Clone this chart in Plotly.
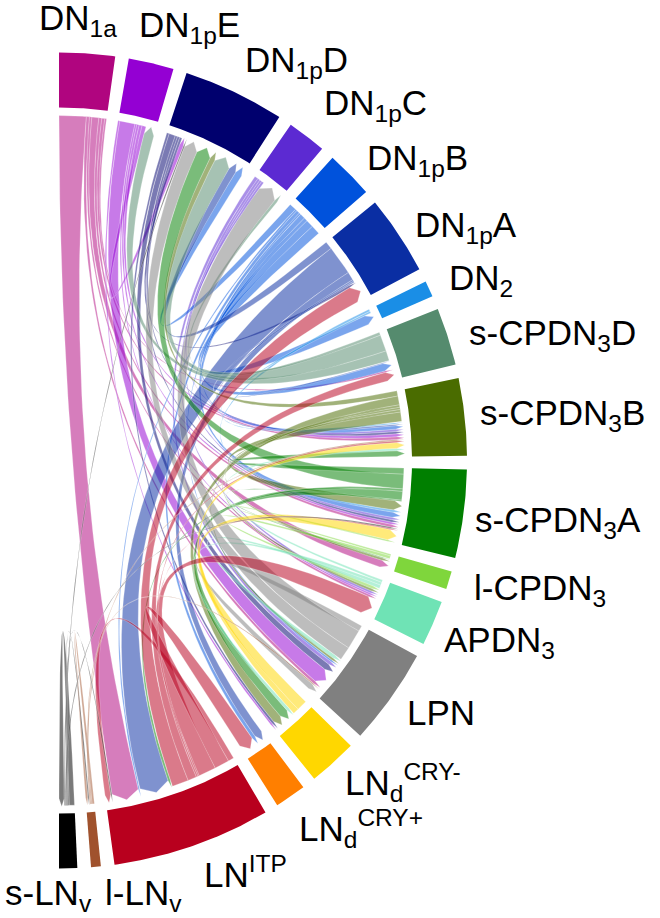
import numpy as np
import plotly.graph_objects as go

# ---------------- data ----------------
NODES = ["DN1a", "DN1pE", "DN1pD", "DN1pC", "DN1pB", "DN1pA", "DN2",
         "s-CPDN3D", "s-CPDN3B", "s-CPDN3A", "l-CPDN3", "APDN3", "LPN",
         "LNdCRY-", "LNdCRY+", "LNITP", "l-LNv", "s-LNv"]

NODE_LABELS = ["DN<sub>1a</sub>", "DN<sub>1p</sub>E", "DN<sub>1p</sub>D", "DN<sub>1p</sub>C",
               "DN<sub>1p</sub>B", "DN<sub>1p</sub>A", "DN<sub>2</sub>",
               "s-CPDN<sub>3</sub>D", "s-CPDN<sub>3</sub>B", "s-CPDN<sub>3</sub>A",
               "l-CPDN<sub>3</sub>", "APDN<sub>3</sub>", "LPN",
               "LN<sub>d</sub><sup>CRY-</sup>", "LN<sub>d</sub><sup>CRY+</sup>",
               "LN<sup>ITP</sup>", "l-LN<sub>v</sub>", "s-LN<sub>v</sub>"]

NODE_COLORS = ["#b0057f", "#9400d3", "#00006e", "#5c2ad2", "#0052dc", "#0a2ea3",
               "#1a8ee6", "#558b6e", "#4a6c00", "#007f00", "#7fd63c", "#6fe3b5",
               "#808080", "#ffd700", "#ff7f00", "#b8001e", "#a0522d", "#000000"]

FLOW_SRC = ["DN1a", "DN1a", "DN1a", "DN1a", "DN1a", "DN1a", "DN1a",
            "DN1pE", "DN1pE", "DN1pE", "DN1pE", "DN1pE", "DN1pE",
            "DN1pD", "DN1pD", "DN1pD", "DN1pD", "DN1pD",
            "DN1pC", "DN1pC", "DN1pC", "DN1pC",
            "DN1pB", "DN1pB", "DN1pB", "DN1pB", "DN1pB", "DN1pB", "DN1pB", "DN1pB",
            "DN1pA", "DN1pA", "DN1pA", "DN1pA", "DN1pA",
            "DN2", "DN2",
            "s-CPDN3D", "s-CPDN3D", "s-CPDN3D",
            "s-CPDN3B", "s-CPDN3B", "s-CPDN3B", "s-CPDN3B", "s-CPDN3B", "s-CPDN3B",
            "s-CPDN3A", "s-CPDN3A", "s-CPDN3A", "s-CPDN3A", "s-CPDN3A",
            "l-CPDN3", "l-CPDN3",
            "APDN3", "APDN3", "APDN3",
            "LPN", "LPN", "LPN",
            "LNdCRY-", "LNdCRY-",
            "LNITP", "LNITP", "LNITP", "LNITP", "LNITP", "LNITP", "LNITP",
            "l-LNv", "l-LNv", "l-LNv",
            "s-LNv", "s-LNv", "s-LNv", "s-LNv", "s-LNv"]

FLOW_TGT = ["LNITP", "l-CPDN3", "s-CPDN3A", "s-CPDN3B", "APDN3", "LPN", "s-CPDN3D",
            "LPN", "DN1pD", "s-CPDN3B", "s-CPDN3A", "LNdCRY-", "APDN3",
            "LPN", "s-CPDN3A", "s-CPDN3B", "DN1pA", "LNdCRY-",
            "LPN", "s-CPDN3A", "s-CPDN3B", "APDN3",
            "DN2", "DN1pD", "s-CPDN3D", "s-CPDN3A", "s-CPDN3B", "LNdCRY+", "LNITP", "LPN",
            "LNITP", "DN1pD", "LNdCRY+", "s-CPDN3B", "s-CPDN3D",
            "s-CPDN3A", "s-CPDN3B",
            "DN1pE", "DN1pD", "DN1pC",
            "DN1pD", "s-CPDN3A", "LNdCRY-", "APDN3", "l-CPDN3", "LPN",
            "DN1pD", "s-CPDN3B", "LNdCRY-", "LNITP", "l-CPDN3",
            "s-CPDN3A", "APDN3",
            "LPN", "LNdCRY-", "s-CPDN3B",
            "LPN", "DN1pC", "DN1pD",
            "s-CPDN3B", "s-CPDN3A",
            "LNITP", "DN1pA", "s-CPDN3D", "APDN3", "LNdCRY+", "s-CPDN3B", "s-CPDN3A",
            "l-LNv", "LPN", "s-CPDN3B",
            "s-LNv", "DN1pD", "s-CPDN3A", "LNITP", "l-LNv"]

FLOW_VAL = [46, 12, 5, 5, 4, 5, 3,
            26, 7, 5, 4, 3, 3,
            11, 4, 4, 4, 4,
            6, 4, 4, 4,
            16, 12, 13, 9, 6, 6, 3, 3,
            50, 13, 14, 3, 2,
            4, 3,
            17, 28, 5,
            9, 16, 15, 4, 4, 4,
            25, 10, 15, 4, 2,
            3, 5,
            6, 5, 4,
            10, 33, 23,
            10, 18,
            10, 28, 15, 30, 25, 3, 2,
            4, 2, 2,
            9, 2, 2, 2, 2]

# ---------------- layout constants ----------------
W, H = 660, 918
CX, CY = 59.0, 460.5          # circle centre in page pixels
R_OUT, R_IN = 408.0, 353.0    # outer ring
R_LINK = 345.0                # chord source radius
R_SH, R_TIP = 338.0, 346.0    # arrow shoulder / tip radius
SPAN, GAP = 180.0, 1.93
CHORD_ALPHA = 0.52
FS = 35
FONT = "Arial, Liberation Sans, sans-serif"

# label left edge and text baseline (page pixels)
LABEL_POS = [(37, 33), (137, 40), (243, 75), (322, 118), (365, 173), (413, 240),
             (447, 293), (467, 348), (478, 428), (473, 535), (472, 603), (442, 655),
             (405, 725), (343, 795), (297, 841), (202, 885), (103, 908), (3, 908)]

n = len(NODES)
idx = {name: i for i, name in enumerate(NODES)}
src = [idx[s] for s in FLOW_SRC]
tgt = [idx[t] for t in FLOW_TGT]
val = list(FLOW_VAL)

tot = np.zeros(n)
for s, t, v in zip(src, tgt, val):
    tot[s] += v
    tot[t] += v
scale = (SPAN - GAP * (n - 1)) / tot.sum()

starts = []
a = 0.0
for i in range(n):
    starts.append(a)
    a += tot[i] * scale + GAP

# order link ends within every sector: outgoing first, then incoming
ends = {i: [] for i in range(n)}
for k, (s, t, v) in enumerate(zip(src, tgt, val)):
    if s == t:
        ends[s].append(((0, -(n + 1)), k, "s"))
        ends[t].append(((1, 1), k, "t"))
    else:
        ends[s].append(((0, -((t - s) % n)), k, "s"))
        ends[t].append(((1, -((s - t) % n)), k, "t"))

seg = {}
for i in range(n):
    pos = starts[i]
    for key, k, role in sorted(ends[i], key=lambda e: e[0]):
        w = val[k] * scale
        seg[(k, role)] = (pos, pos + w)
        pos += w


def pt(theta, r):
    t = np.radians(theta)
    return r * np.sin(t), r * np.cos(t)


def arc(a0, a1, r):
    m = max(2, int(abs(a1 - a0) * 3) + 2)
    th = np.radians(np.linspace(a0, a1, m))
    return list(r * np.sin(th)), list(r * np.cos(th))


def bez(p0, p2, m=50):
    tt = np.linspace(0, 1, m)
    x = (1 - tt) ** 2 * p0[0] + tt ** 2 * p2[0]
    y = (1 - tt) ** 2 * p0[1] + tt ** 2 * p2[1]
    return list(x), list(y)


def rgba(hexc, a):
    h = hexc.lstrip("#")
    r, g, b = int(h[0:2], 16), int(h[2:4], 16), int(h[4:6], 16)
    return f"rgba({r},{g},{b},{a})"


fig = go.Figure()

# ring segments
for i in range(n):
    a0, a1 = starts[i], starts[i] + tot[i] * scale
    xo, yo = arc(a0, a1, R_OUT)
    xi, yi = arc(a1, a0, R_IN)
    fig.add_trace(go.Scatter(x=xo + xi, y=yo + yi, fill="toself", mode="lines",
                             fillcolor=NODE_COLORS[i], line=dict(width=0),
                             hoverinfo="text", text=NODES[i]))

# chords
for k, (s, t, v) in enumerate(zip(src, tgt, val)):
    s0, s1 = seg[(k, "s")]
    t0, t1 = seg[(k, "t")]
    xs, ys = arc(s0, s1, R_LINK)
    bx, by = bez(pt(s1, R_LINK), pt(t0, R_SH))
    xs += bx; ys += by
    tx, ty = pt((t0 + t1) / 2, R_TIP)
    xs.append(tx); ys.append(ty)
    bx, by = bez(pt(t1, R_SH), pt(s0, R_LINK))
    xs += bx; ys += by
    fig.add_trace(go.Scatter(x=xs, y=ys, fill="toself", mode="lines",
                             fillcolor=rgba(NODE_COLORS[s], CHORD_ALPHA),
                             line=dict(width=0.5, color="rgba(255,255,255,0.5)"),
                             hoverinfo="text", text=f"{NODES[s]} → {NODES[t]}: {v}"))

# labels
for i in range(n):
    lx, bl = LABEL_POS[i]
    fig.add_annotation(x=lx - CX, y=CY - (bl - FS * 0.36), text=NODE_LABELS[i],
                       xanchor="left", yanchor="middle", showarrow=False,
                       font=dict(family=FONT, size=FS, color="black"))

fig.update_layout(width=W, height=H, margin=dict(l=0, r=0, t=0, b=0),
                  paper_bgcolor="white", plot_bgcolor="white", showlegend=False,
                  xaxis=dict(range=[-CX, W - CX], visible=False, fixedrange=True),
                  yaxis=dict(range=[CY - H, CY], visible=False, fixedrange=True))

fig.write_html("out.html", config={"displayModeBar": False},
               post_script="document.body.style.margin='0';")
